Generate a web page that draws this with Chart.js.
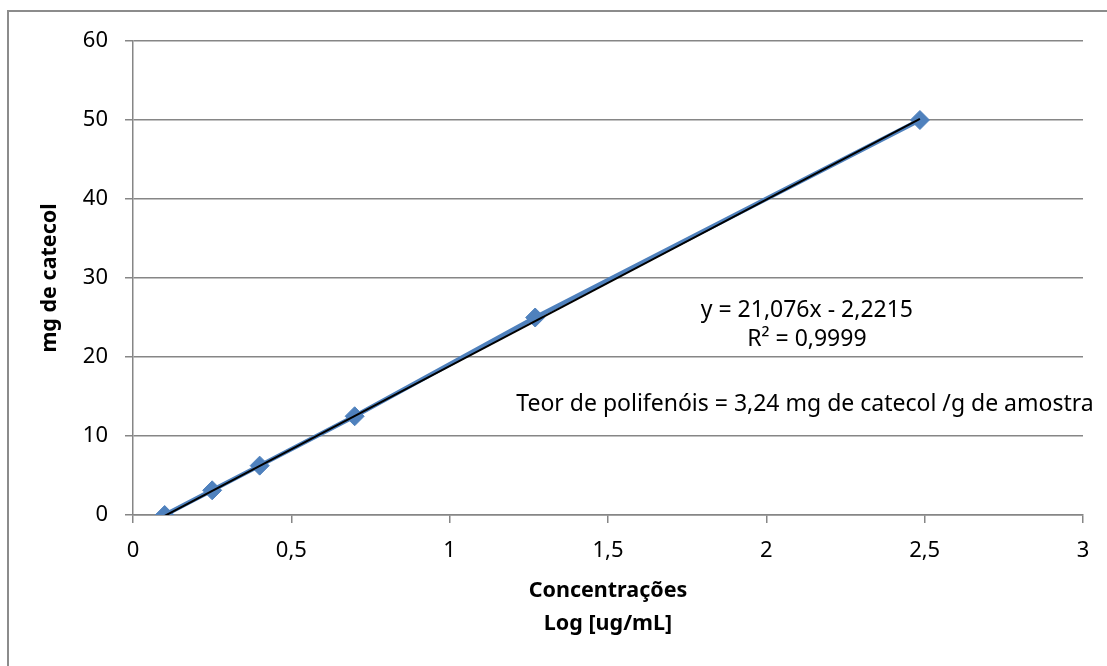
<!DOCTYPE html>
<html lang="pt">
<head>
<meta charset="UTF-8">
<title>Curva de calibração - catecol</title>
<script src="https://cdn.jsdelivr.net/npm/chart.js"></script>
<style>
    body {
        margin: 0;
        background: #fff;
        overflow: hidden;
    }
    .frame {
        position: absolute;
        left: 7px;
        top: 10px;
        width: 1200px;
        height: 700px;
        border-left: 2px solid #8c8c8c;
        border-top: 2px solid #8c8c8c;
    }
    #wrap {
        position: absolute;
        left: 0;
        top: 0;
        width: 1107px;
        height: 666px;
    }
</style>
</head>
<body>
<div class="frame"></div>
<div id="wrap"><canvas id="curva"></canvas></div>
<script>
    // data
    const logConc = [0.1, 0.25, 0.4, 0.7, 1.27, 2.485];
    const mgCatecol = [0, 3.125, 6.25, 12.5, 25, 50];
    const slope = 21.076;
    const intercept = -2.2215;
    const eqLines = ['y = 21,076x - 2,2215', 'R² = 0,9999'];
    const teorText = 'Teor de polifenóis = 3,24 mg de catecol /g de amostra';
    const xTitle = ['Concentrações', 'Log [ug/mL]'];
    const yTitle = 'mg de catecol';

    const FONT = "'Noto Sans', 'DejaVu Sans', sans-serif";
    const GRAY = '#868686';

    const points = logConc.map((x, i) => ({ x: x, y: mgCatecol[i] }));
    const xFirst = logConc[0], xLast = logConc[logConc.length - 1];
    const trend = [
        { x: xFirst, y: slope * xFirst + intercept },
        { x: xLast, y: slope * xLast + intercept }
    ];

    const comma = v => String(v).replace('.', ',');

    // axis titles + text boxes
    const textPlugin = {
        id: 'texts',
        afterDraw(chart) {
            const ctx = chart.ctx;
            const area = chart.chartArea;
            const xs = chart.scales.x, ys = chart.scales.y;
            ctx.save();
            ctx.fillStyle = '#000';
            ctx.textAlign = 'center';
            ctx.textBaseline = 'middle';

            ctx.font = 'bold 21.5px ' + FONT;
            ctx.fillText(xTitle[0], (area.left + area.right) / 2, 591);
            ctx.fillText(xTitle[1], (area.left + area.right) / 2, 624);

            ctx.save();
            ctx.translate(50, (area.top + area.bottom) / 2);
            ctx.rotate(-Math.PI / 2);
            ctx.fillText(yTitle, 0, 0);
            ctx.restore();

            ctx.font = '23px ' + FONT;
            ctx.fillText(eqLines[0], xs.getPixelForValue(2.128), ys.getPixelForValue(25.9));
            ctx.fillText(eqLines[1], xs.getPixelForValue(2.128), ys.getPixelForValue(22.2));
            ctx.fillText(teorText, xs.getPixelForValue(2.122), ys.getPixelForValue(14.0));
            ctx.restore();
        }
    };

    new Chart(document.getElementById('curva'), {
        type: 'scatter',
        data: {
            datasets: [
                {
                    label: 'Linear',
                    data: trend,
                    showLine: true,
                    borderColor: '#000',
                    borderWidth: 2,
                    pointRadius: 0,
                    order: 0
                },
                {
                    label: 'mg de catecol',
                    data: points,
                    showLine: true,
                    borderColor: '#4F81BD',
                    backgroundColor: '#4F81BD',
                    borderWidth: 4.5,
                    pointStyle: 'rectRot',
                    pointRadius: 9.5,
                    pointHoverRadius: 9.5,
                    pointBorderWidth: 1,
                    pointBorderColor: '#4F81BD',
                    order: 1
                }
            ]
        },
        options: {
            responsive: true,
            maintainAspectRatio: false,
            animation: false,
            layout: { padding: { left: 0, top: 41, right: 24, bottom: 0 } },
            plugins: {
                legend: { display: false },
                tooltip: { enabled: false }
            },
            scales: {
                x: {
                    type: 'linear',
                    min: 0,
                    max: 3,
                    afterFit: s => { s.height = 151; },
                    ticks: {
                        stepSize: 0.5,
                        padding: 15,
                        color: '#000',
                        font: { family: FONT, size: 22 },
                        callback: v => comma(v)
                    },
                    grid: { drawOnChartArea: false, color: GRAY, lineWidth: 1.5, tickLength: 8 },
                    border: { color: GRAY, width: 1.5 }
                },
                y: {
                    min: 0,
                    max: 60,
                    afterFit: s => { s.width = 133; },
                    ticks: {
                        stepSize: 10,
                        padding: 17,
                        color: '#000',
                        font: { family: FONT, size: 22 }
                    },
                    grid: { color: GRAY, lineWidth: 1.5, tickLength: 8 },
                    border: { color: GRAY, width: 1.5 }
                }
            }
        },
        plugins: [textPlugin]
    });
</script>
</body>
</html>
